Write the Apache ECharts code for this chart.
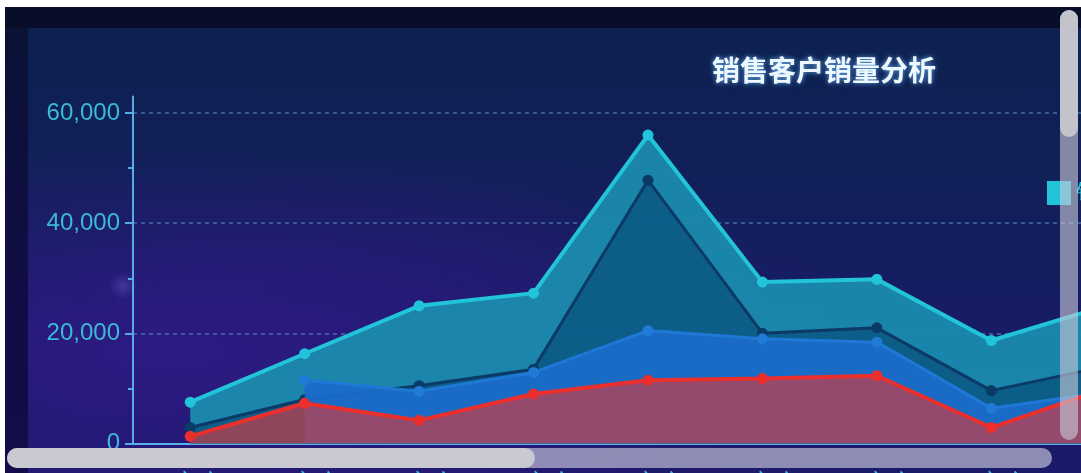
<!DOCTYPE html>
<html>
<head>
<meta charset="utf-8">
<script src="https://cdn.jsdelivr.net/npm/echarts@6/dist/echarts.min.js"></script>
<style>
  html, body { margin: 0; padding: 0; width: 1081px; height: 473px; overflow: hidden; background: #ffffff; }
  #frame { position: absolute; left: 5px; top: 7px; width: 1076px; height: 466px; background: #080d2a; }
  #panel { position: absolute; left: 28px; top: 28px; width: 1053px; height: 445px;
    background:
      radial-gradient(circle at 9% 58%, rgba(120,100,220,0.35) 0px, rgba(120,100,220,0) 14px),
      radial-gradient(ellipse at 12% 72%, rgba(48,26,135,0.85) 0%, rgba(48,26,135,0) 45%),
      radial-gradient(ellipse at 40% 85%, rgba(40,24,120,0.6) 0%, rgba(40,24,120,0) 50%),
      linear-gradient(180deg, #0d2150 0%, #122059 35%, #171c66 70%, #1b196a 100%);
  }
  #leftband { position: absolute; left: 5px; top: 28px; width: 23px; height: 445px;
    background: linear-gradient(180deg, #0a1236 0%, #110d45 60%, #130c48 100%); }
  #chart { position: absolute; left: 0; top: 0; width: 2000px; height: 473px; }
  .sb { position: absolute; z-index: 10; }
  #vtrack { left: 1060px; top: 10px; width: 18px; height: 430px; border-radius: 9px; background: rgba(200,200,215,0.62); }
  #vthumb { left: 1060px; top: 10px; width: 18px; height: 127px; border-radius: 9px; background: #c3c3cb; }
  #htrack { left: 7px; top: 448px; width: 1045px; height: 20px; border-radius: 10px; background: rgba(200,200,218,0.66); }
  #hthumb { left: 7px; top: 448px; width: 528px; height: 20px; border-radius: 10px; background: #c9c9d1; }
</style>
</head>
<body>
<div id="frame"></div>
<div id="leftband"></div>
<div id="panel"></div>
<div id="chart"></div>
<div class="sb" id="vtrack"></div>
<div class="sb" id="vthumb"></div>
<div class="sb" id="htrack"></div>
<div class="sb" id="hthumb"></div>
<script>
// ---- data ----
var titleText = '销售客户销量分析';
var categories = ['A客户', 'Cl客户', 'Cf客户', 'Co客户', 'Cl客户', 'Ci客户', 'Cf客户', 'Cf客户', 'Cu客户'];
var seriesNames = ['销售额', '销量', '客户数', '订单数'];
var salesAmount = [7500, 16300, 25000, 27300, 56000, 29300, 29800, 18700, 25000];
var salesVolume = [2900, 8000, 10500, 13500, 47800, 20000, 21000, 9600, 14000];
var customerCount = [null, 11500, 9500, 12900, 20500, 19000, 18400, 6400, 9300];
var orderCount = [1300, 7300, 4200, 9000, 11500, 11800, 12300, 2900, 10000];
var yLabelValues = [0, 20000, 40000, 60000];

var chart = echarts.init(document.getElementById('chart'), null, { renderer: 'canvas' });

function fmt(v) { return String(v).replace(/\B(?=(\d{3})+(?!\d))/g, ','); }

var option = {
  backgroundColor: 'transparent',
  animation: false,
  title: {
    text: titleText,
    left: 712,
    top: 56,
    padding: 0,
    textStyle: {
      color: '#eef8ff',
      fontSize: 28,
      fontWeight: 'bold',
      fontFamily: 'Noto Sans CJK SC',
      textShadowColor: 'rgba(110,190,255,0.9)',
      textShadowBlur: 5
    }
  },
  legend: {
    data: seriesNames,
    left: 1047,
    top: 181,
    width: 900,
    padding: 0,
    orient: 'horizontal',
    icon: 'rect',
    itemWidth: 24,
    itemHeight: 24,
    itemGap: 20,
    textStyle: { color: '#22c4da', fontSize: 22 }
  },
  grid: { left: 133, top: 96.5, width: 1030, height: 347, containLabel: false, outerBoundsMode: 'none' },
  xAxis: {
    type: 'category',
    data: categories,
    boundaryGap: true,
    offset: 3,
    axisLine: { lineStyle: { color: '#56b0ea', width: 2 } },
    axisTick: { alignWithLabel: true, length: 10, lineStyle: { color: '#cfe6ff', width: 2 } },
    axisLabel: { color: '#3cb9d6', fontSize: 24, margin: 26, fontFamily: 'Liberation Sans' },
    splitLine: { show: false }
  },
  yAxis: {
    type: 'value',
    min: 0,
    max: 63000,
    interval: 20000,
    axisLine: { show: true, lineStyle: { color: '#56aae6', width: 2 } },
    axisTick: { show: true, length: 8, customValues: yLabelValues, lineStyle: { color: '#56aae6', width: 2 } },
    minorTick: { show: true, splitNumber: 2, length: 5, lineStyle: { color: '#56aae6', width: 2 } },
    axisLabel: {
      color: '#3cb9d6', fontSize: 24, margin: 13, fontFamily: 'Liberation Sans',
      customValues: yLabelValues,
      formatter: function (v) { return fmt(v); }
    },
    splitLine: { show: true, lineStyle: { color: 'rgba(110,160,220,0.6)', width: 1.5, type: [4, 4] } }
  },
  series: [
    {
      name: seriesNames[0], type: 'line', data: salesAmount,
      symbol: 'circle', symbolSize: 11,
      itemStyle: { color: '#22c4da' },
      lineStyle: { color: '#22c4da', width: 4 },
      areaStyle: { color: '#1b8eb0', opacity: 0.92 },
      z: 2
    },
    {
      name: seriesNames[1], type: 'line', data: salesVolume,
      symbol: 'circle', symbolSize: 11,
      itemStyle: { color: '#0b3a66' },
      lineStyle: { color: '#0b3a66', width: 3 },
      areaStyle: { color: '#0d5b88', opacity: 0.95 },
      z: 3
    },
    {
      name: seriesNames[2], type: 'line', data: customerCount,
      symbol: 'circle', symbolSize: 11,
      itemStyle: { color: '#1f7ad8' },
      lineStyle: { color: '#1f78d6', width: 3 },
      areaStyle: { color: '#1a6cc8', opacity: 0.95 },
      z: 4
    },
    {
      name: seriesNames[3], type: 'line', data: orderCount,
      symbol: 'circle', symbolSize: 11,
      itemStyle: { color: '#ea2f2c' },
      lineStyle: { color: '#ea2f2c', width: 4 },
      areaStyle: { color: 'rgb(200,60,70)', opacity: 0.7 },
      z: 5
    }
  ]
};
chart.setOption(option);
</script>
</body>
</html>
